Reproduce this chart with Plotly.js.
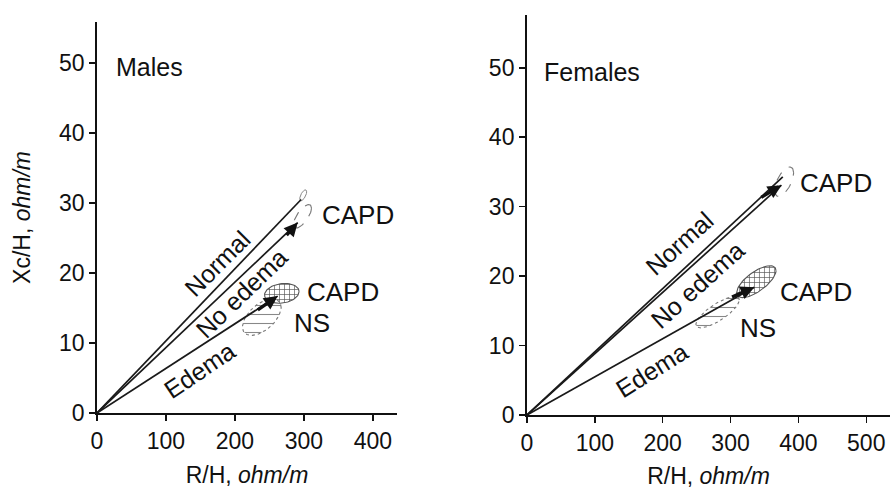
<!DOCTYPE html>
<html>
<head>
<meta charset="utf-8">
<script src="https://cdn.plot.ly/plotly-3.0.1.min.js"></script>
<style>html,body{margin:0;padding:0;background:#fff;}#chart{width:890px;height:489px;}</style>
</head>
<body>
<div id="chart"></div>
<script>
// ---------- data ----------
// vector end points [R/H, Xc/H] from the origin
var maleLineNames   = ["Normal", "No edema", "Edema"];
var maleLineR       = [296, 291, 262];
var maleLineXc      = [30.5, 27.2, 16.7];
var femaleLineNames = ["Normal", "No edema", "Edema"];
var femaleLineR     = [377, 375, 335];
var femaleLineXc    = [34.3, 33.1, 18.4];

// arrows: tail -> head
var maleArrowFromR   = [273, 231];
var maleArrowFromXc  = [25.2, 14.6];
var maleArrowToR     = [291, 262];
var maleArrowToXc    = [27.2, 16.7];
var femaleArrowFromR  = [343, 300];
var femaleArrowFromXc = [31.2, 16.9];
var femaleArrowToR    = [375, 335];
var femaleArrowToXc   = [33.1, 18.4];

// ellipses: centre R, centre Xc, half width (R), half height (Xc), tilt (Xc per R)
var maleEllNames  = ["Normal", "CAPD no edema", "NS", "CAPD edema"];
var maleEllR      = [299, 298, 239, 268];
var maleEllXc     = [31.1, 28.1, 13.7, 17.1];
var maleEllA      = [5, 13, 28, 25];
var maleEllB      = [0.6, 1.2, 2.2, 1.4];
var maleEllTilt   = [0.1, 0.09, 0.05, 0.01];
var femaleEllNames = ["CAPD no edema", "NS", "CAPD edema"];
var femaleEllR     = [379, 281, 338];
var femaleEllXc    = [33.6, 14.8, 19.2];
var femaleEllA     = [14, 32, 29];
var femaleEllB     = [1.7, 1.4, 1.65];
var femaleEllTilt  = [0.09, 0.055, 0.055];

var xTicksMale   = [0, 100, 200, 300, 400];
var xTicksFemale = [0, 100, 200, 300, 400, 500];
var yTicks       = [0, 10, 20, 30, 40, 50];

// ---------- build ----------
var FONT = "Liberation Sans, Arial, Helvetica, sans-serif";
var INK = "#111111";
var traces = [];

function addLines(R, Xc, xa, ya) {
  for (var i = 0; i < R.length; i++) {
    traces.push({type: "scatter", mode: "lines", x: [0, R[i]], y: [0, Xc[i]],
      xaxis: xa, yaxis: ya, line: {color: "#1a1a1a", width: 1.7}, hoverinfo: "skip", showlegend: false});
  }
}
function ellipsePts(cx, cy, a, b, s) {
  var xs = [], ys = [];
  for (var k = 0; k <= 72; k++) {
    var t = 2 * Math.PI * k / 72;
    var dx = a * Math.cos(t);
    xs.push(cx + dx);
    ys.push(cy + b * Math.sin(t) + s * dx);
  }
  return [xs, ys];
}
function styleFor(name) {
  if (name === "NS") return {line: {color: "#777", width: 1.1, dash: "dot"},
    fill: "toself", fillcolor: "rgba(255,255,255,0)", fillpattern: {shape: "-", size: 9, solidity: 0.12, fgcolor: "#888", bgcolor: "rgba(255,255,255,0)"}};
  if (name === "CAPD edema") return {line: {color: "#555", width: 1.1},
    fill: "toself", fillcolor: "rgba(255,255,255,0)", fillpattern: {shape: "+", size: 5, solidity: 0.25, fgcolor: "#555", bgcolor: "rgba(255,255,255,0)"}};
  if (name === "CAPD no edema") return {line: {color: "#777", width: 1.1, dash: "dash"}, fill: "none"};
  return {line: {color: "#888", width: 1.0}, fill: "none"};
}
function addEllipses(names, R, Xc, A, B, T, xa, ya) {
  for (var i = 0; i < names.length; i++) {
    var p = ellipsePts(R[i], Xc[i], A[i], B[i], T[i]);
    var st = styleFor(names[i]);
    var tr = {type: "scatter", mode: "lines", x: p[0], y: p[1], xaxis: xa, yaxis: ya,
      line: st.line, fill: st.fill, hoverinfo: "skip", showlegend: false};
    if (st.fillpattern) { tr.fillpattern = st.fillpattern; tr.fillcolor = st.fillcolor; }
    traces.push(tr);
  }
}
addEllipses(maleEllNames, maleEllR, maleEllXc, maleEllA, maleEllB, maleEllTilt, "x", "y");
addEllipses(femaleEllNames, femaleEllR, femaleEllXc, femaleEllA, femaleEllB, femaleEllTilt, "x2", "y2");
addLines(maleLineR, maleLineXc, "x", "y");
addLines(femaleLineR, femaleLineXc, "x2", "y2");

var ann = [];
function addArrows(fR, fX, tR, tX, xr, yr) {
  for (var i = 0; i < fR.length; i++) {
    ann.push({x: tR[i], y: tX[i], ax: fR[i], ay: fX[i], xref: xr, yref: yr, axref: xr, ayref: yr,
      showarrow: true, arrowhead: 2, arrowsize: 0.8, arrowwidth: 3.4, arrowcolor: "#111", text: ""});
  }
}
addArrows(maleArrowFromR, maleArrowFromXc, maleArrowToR, maleArrowToXc, "x", "y");
addArrows(femaleArrowFromR, femaleArrowFromXc, femaleArrowToR, femaleArrowToXc, "x2", "y2");

function lbl(text, x, y, xr, yr, size, angle, xanchor) {
  ann.push({text: text, x: x, y: y, xref: xr, yref: yr, showarrow: false,
    textangle: angle || 0, xanchor: xanchor || "center", yanchor: "middle",
    font: {family: FONT, size: size, color: INK}});
}
// male labels
lbl("Males", 25, 49.4, "x", "y", 25, 0, "left");
lbl("Normal", 175, 21.4, "x", "y", 25, -45);
lbl("No edema", 210, 17.1, "x", "y", 25, -44);
lbl("Edema", 149, 6.1, "x", "y", 25, -34);
lbl("CAPD", 378, 28.3, "x", "y", 26);
lbl("CAPD", 357, 17.3, "x", "y", 26);
lbl("NS", 312, 12.9, "x", "y", 26);
// female labels
lbl("Females", 22, 49.4, "x2", "y2", 25, 0, "left");
lbl("Normal", 225, 24.8, "x2", "y2", 25, -42);
lbl("No edema", 251, 18.7, "x2", "y2", 25, -42);
lbl("Edema", 184, 6.5, "x2", "y2", 25, -32);
lbl("CAPD", 456, 33.4, "x2", "y2", 26);
lbl("CAPD", 426, 17.7, "x2", "y2", 26);
lbl("NS", 340, 12.5, "x2", "y2", 26);

function axisBase() {
  return {showline: true, linecolor: INK, linewidth: 1.9, showgrid: false, zeroline: false,
    ticks: "outside", ticklen: 6, tickwidth: 1.5, tickcolor: INK, tickmode: "array",
    tickfont: {family: FONT, size: 23, color: INK}, automargin: false, fixedrange: true};
}
var xa1 = axisBase(); xa1.domain = [0, 0.3783]; xa1.range = [0, 435]; xa1.tickvals = xTicksMale; xa1.anchor = "y";
xa1.title = {text: "R/H, <i>ohm/m</i>", font: {family: FONT, size: 23, color: INK}, standoff: 14};
var ya1 = axisBase(); ya1.domain = [0.005, 0.9825]; ya1.range = [0, 55.86]; ya1.tickvals = yTicks; ya1.anchor = "x";
ya1.title = {text: "Xc/H, <i>ohm/m</i>", font: {family: FONT, size: 23, color: INK}, standoff: 22};
var xa2 = axisBase(); xa2.domain = [0.5422, 1]; xa2.range = [0, 535]; xa2.tickvals = xTicksFemale; xa2.anchor = "y2";
xa2.title = {text: "R/H, <i>ohm/m</i>", font: {family: FONT, size: 23, color: INK}, standoff: 14};
var ya2 = axisBase(); ya2.domain = [0, 1]; ya2.range = [0, 57.6]; ya2.tickvals = yTicks; ya2.anchor = "x2";

var layout = {
  width: 890, height: 489,
  margin: {l: 97, r: 0, t: 15, b: 74},
  paper_bgcolor: "#ffffff", plot_bgcolor: "rgba(0,0,0,0)",
  showlegend: false,
  xaxis: xa1, yaxis: ya1, xaxis2: xa2, yaxis2: ya2,
  annotations: ann,
  font: {family: FONT, color: INK}
};
Plotly.newPlot("chart", traces, layout, {displayModeBar: false, staticPlot: true});
</script>
</body>
</html>
